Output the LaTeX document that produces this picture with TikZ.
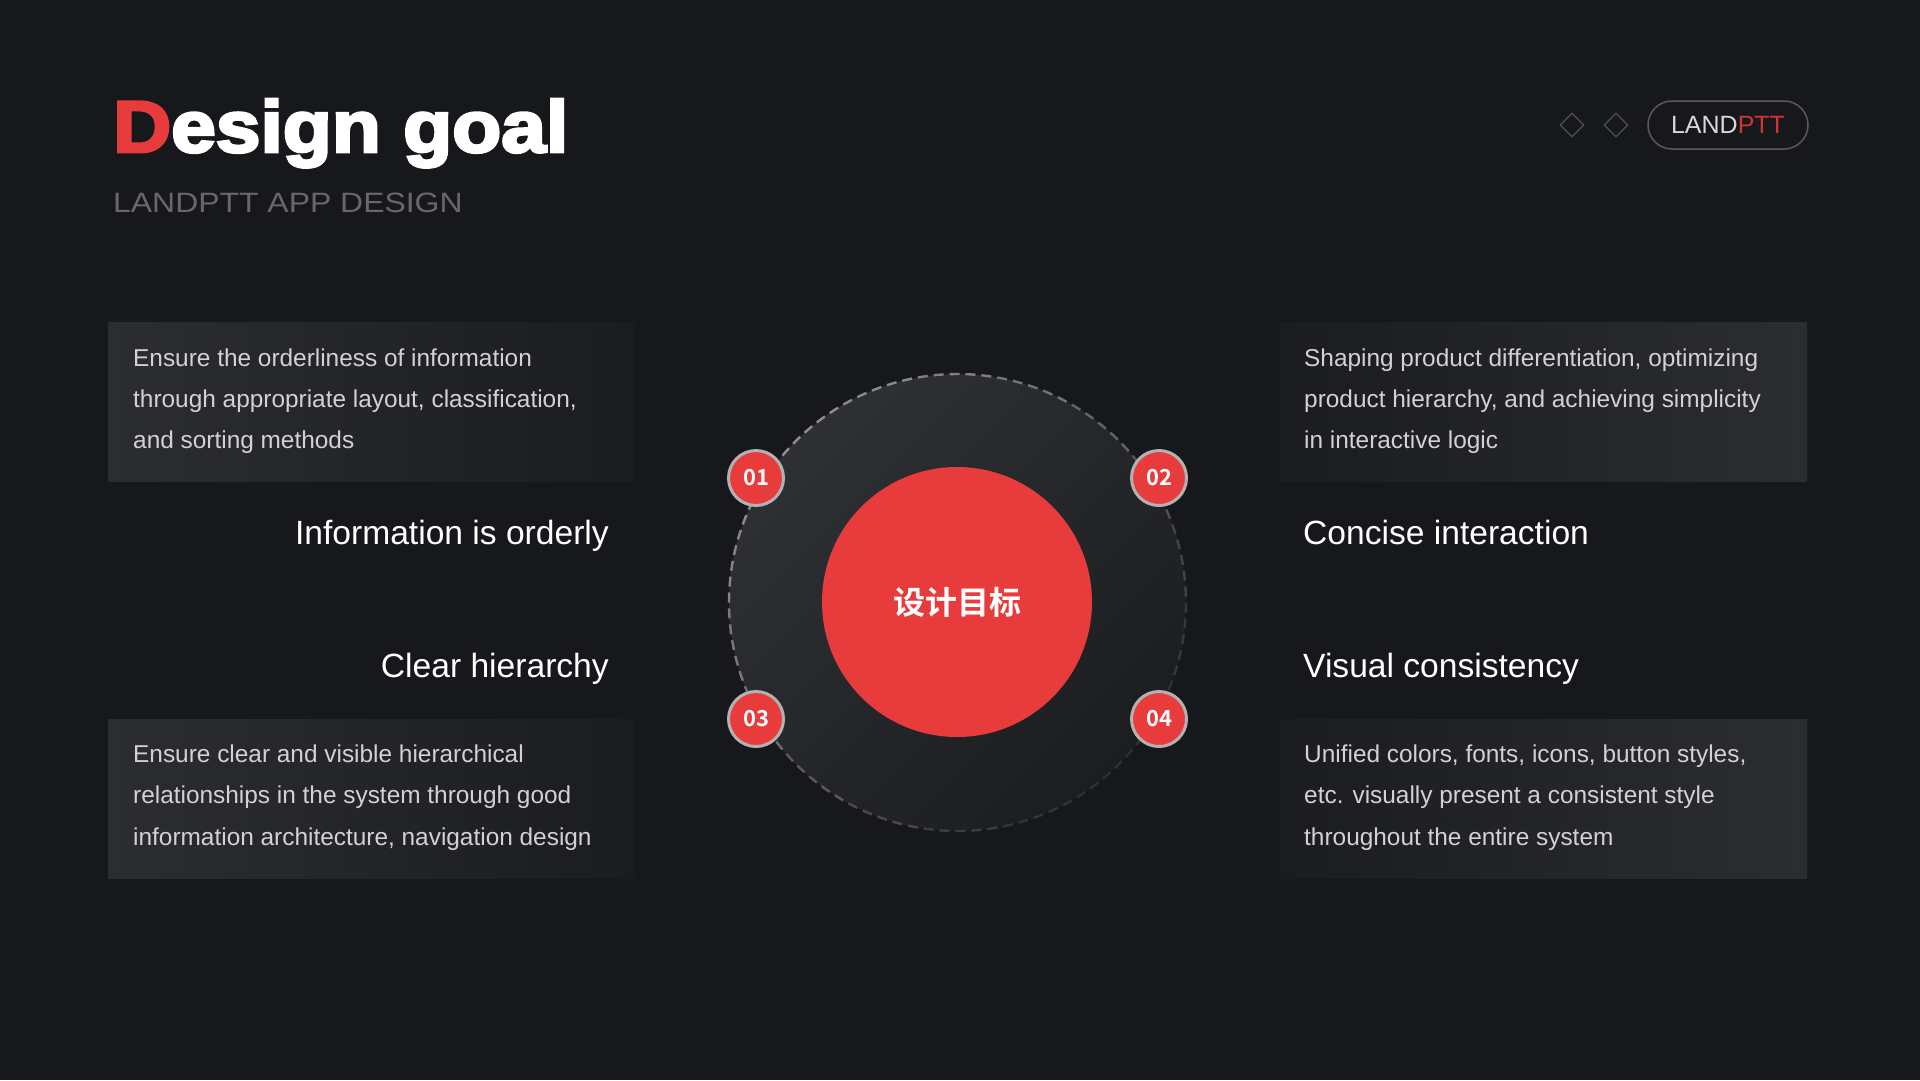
\documentclass[tikz,border=0pt]{standalone}
\usepackage{fontspec}
\usetikzlibrary{shapes.geometric}
\setmainfont{Liberation Sans}
\newfontfamily\titlefont{Liberation Sans Bold}[FakeBold=4,FakeStretch=1.1]
\newfontfamily\subfont{Liberation Sans}[FakeStretch=1.14]
\newfontfamily\cjkb{Noto Sans CJK SC Bold}
\definecolor{bg}{HTML}{16181C}
\definecolor{accent}{HTML}{E83C3C}
\definecolor{boxlight}{HTML}{2C2D31}
\definecolor{boxdark}{HTML}{1A1C20}
\definecolor{bodytext}{HTML}{D2D2D2}
\definecolor{subgray}{HTML}{686868}
\definecolor{ringlight}{HTML}{2F3034}
\definecolor{ringdark}{HTML}{1C1D1F}
\definecolor{dashlight}{HTML}{8E8E8E}
\definecolor{dashdark}{HTML}{2E2F31}
\definecolor{pillgray}{HTML}{5A5A5A}
\definecolor{landgray}{HTML}{D8D8D8}
\definecolor{pttred}{HTML}{D03434}
\tikzset{
  body/.style={anchor=base west, inner sep=0pt, text=bodytext, font=\fontsize{24.4}{24.4}\selectfont},
  head/.style={inner sep=0pt, text=white, font=\fontsize{33.6}{33.6}\selectfont},
  panel/.style={inner sep=0pt, minimum width=527pt, minimum height=159pt, anchor=north west},
  numdot/.style={circle, fill=accent, draw=black!30!white, line width=3pt, minimum size=55pt, inner sep=0pt, text=white, font=\cjkb\fontsize{22}{22}\selectfont},
  diam/.style={diamond, draw=pillgray!85!bg, line width=1.3pt, minimum size=24pt, inner sep=0pt}
}
\begin{document}
\begin{tikzpicture}[x=1pt,y=-1pt]
\useasboundingbox (0,0) rectangle (1920,1080);
\fill[bg] (0,0) rectangle (1920,1080);

% title
\node[anchor=base west, inner sep=0pt, text=white, font=\titlefont\fontsize{73}{73}\selectfont] (title) at (113,152) {\textcolor{accent}{D}esign goal};
\node[anchor=base west, inner sep=0pt, text=subgray, font=\subfont\fontsize{28}{28}\selectfont] (subtitle) at (113,212) {LANDPTT APP DESIGN};

% top right
\node[diam] (d1) at (1572,125) {};
\node[diam] (d2) at (1616,125) {};
\node[draw=pillgray, line width=1.5pt, rounded corners=24pt, minimum width=160pt, minimum height=48pt, inner sep=0pt, font=\fontsize{25}{25}\selectfont] (pill) at (1728,125) {\textcolor{landgray}{LAND}\textcolor{pttred}{PTT}};

% panels
\node[panel, left color=boxlight, right color=boxdark] (p1) at (108,322) {};
\node[panel, left color=boxdark, right color=boxlight] (p2) at (1280,322) {};
\node[panel, left color=boxlight, right color=boxdark] (p3) at (108,719) {};
\node[panel, left color=boxdark, right color=boxlight] (p4) at (1280,719) {};

\node[body] (t1a) at (133,366) {Ensure the orderliness of information};
\node[body] (t1b) at (133,407) {through appropriate layout, classification,};
\node[body] (t1c) at (133,448) {and sorting methods};

\node[body] (t2a) at (1304,366) {Shaping product differentiation, optimizing};
\node[body] (t2b) at (1304,407) {product hierarchy, and achieving simplicity};
\node[body] (t2c) at (1304,448) {in interactive logic};

\node[body] (t3a) at (133,762) {Ensure clear and visible hierarchical};
\node[body] (t3b) at (133,803) {relationships in the system through good};
\node[body] (t3c) at (133,845) {information architecture, navigation design};

\node[body] (t4a) at (1304,762) {Unified colors, fonts, icons, button styles,};
\node[body] (t4b) at (1304,803) {etc. visually present a consistent style};
\node[body] (t4c) at (1304,845) {throughout the entire system};

% headings
\node[head, anchor=base east] (h1) at (609,544) {Information is orderly};
\node[head, anchor=base east] (h3) at (609,677) {Clear hierarchy};
\node[head, anchor=base west] (h2) at (1303,544) {Concise interaction};
\node[head, anchor=base west] (h4) at (1303,677) {Visual consistency};

% ring
\node[circle, minimum size=457pt, inner sep=0pt, top color=ringlight, bottom color=ringdark, shading angle=45] (ring) at (957.5,602.5) {};
\foreach \i in {0,...,17} {
  \pgfmathsetmacro\ang{\i*20}
  \pgfmathsetmacro\p{50+50*cos(\ang+10-225)}
  \draw[color=dashlight!\p!dashdark, line width=2.4pt, dash pattern=on 10pt off 5.96pt]
    (ring.center) ++(\ang:228.5) arc[start angle=\ang, end angle=\ang+20, radius=228.5];
}

\node[circle, fill=accent, minimum size=270pt, inner sep=0pt, text=white, font=\cjkb\fontsize{32}{32}\selectfont] (core) at (957,602) {设计目标};

\node[numdot] (n1) at (756,478) {01};
\node[numdot] (n2) at (1159,478) {02};
\node[numdot] (n3) at (756,719) {03};
\node[numdot] (n4) at (1159,719) {04};
\end{tikzpicture}
\end{document}
